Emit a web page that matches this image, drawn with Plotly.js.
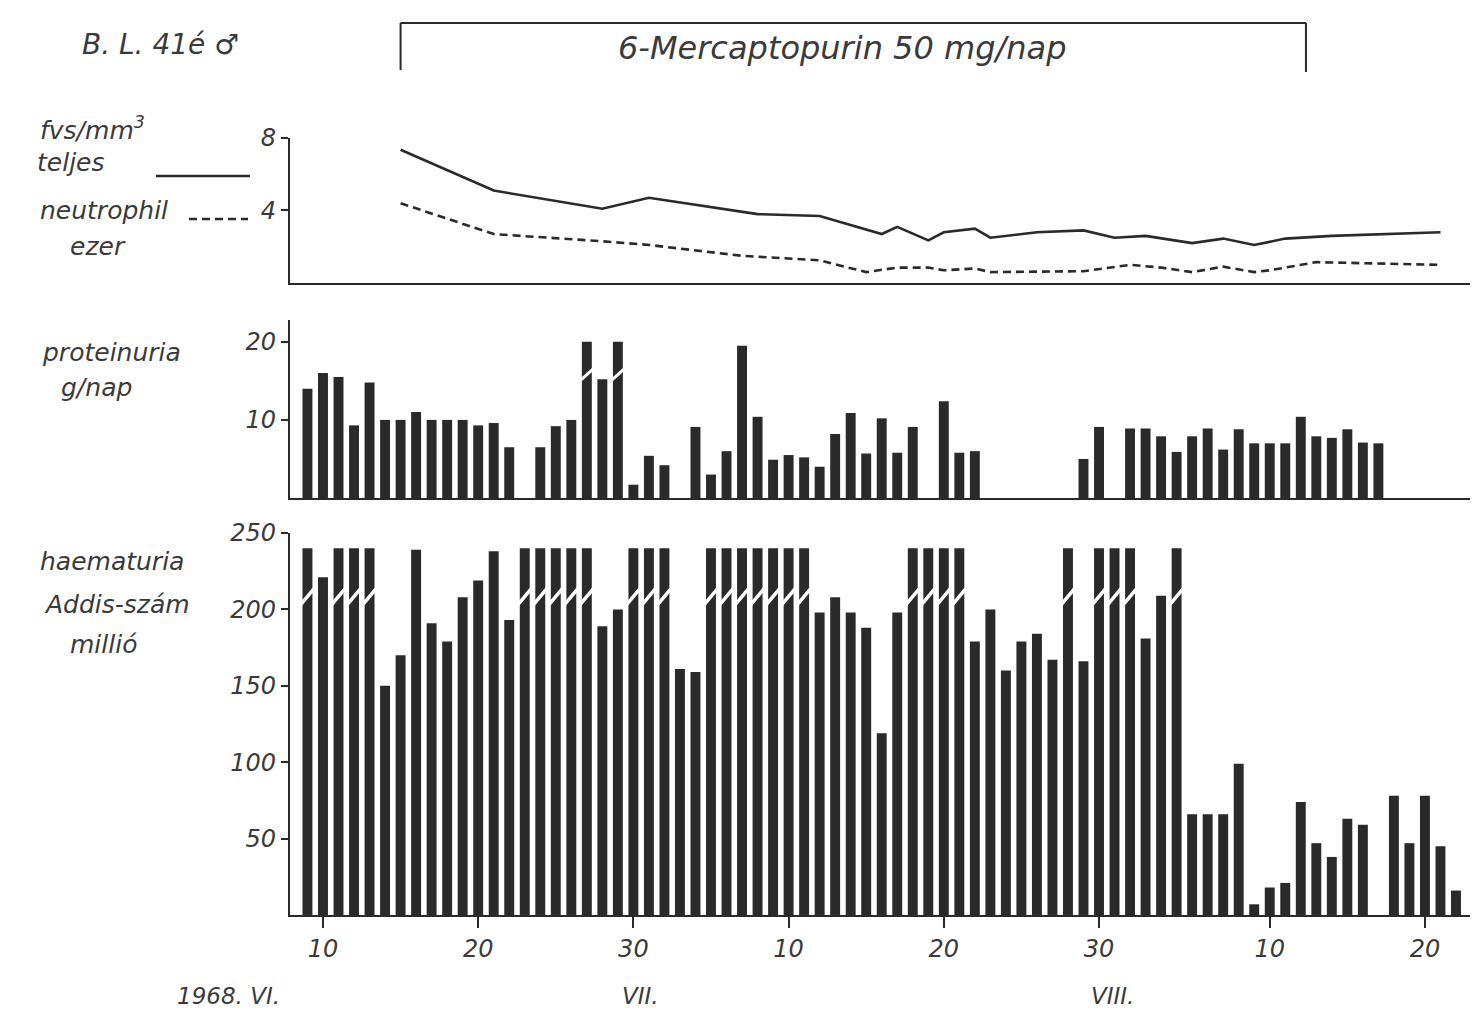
<!DOCTYPE html>
<html>
<head>
<meta charset="utf-8">
<script src="https://cdn.plot.ly/plotly-3.0.1.min.js"></script>
<style>
html,body{margin:0;padding:0;background:#fff;}
#chart{width:1474px;height:1011px;}
</style>
</head>
<body>
<div id="chart"></div>
<script>
// ---------- DATA ----------
// White blood cells (thousand / mm3): total (solid) and neutrophil (dashed)
const wbcTotalDates = ['1968-06-15','1968-06-21','1968-06-28','1968-07-01','1968-07-08','1968-07-12','1968-07-16','1968-07-17','1968-07-19','1968-07-20','1968-07-22','1968-07-23','1968-07-26','1968-07-29','1968-07-31','1968-08-02','1968-08-05','1968-08-07','1968-08-09','1968-08-11','1968-08-14','1968-08-21'];
const wbcTotalValues = [7.35,5.1,4.1,4.7,3.8,3.7,2.7,3.1,2.35,2.8,3.0,2.5,2.8,2.9,2.5,2.6,2.2,2.45,2.1,2.45,2.6,2.8];
const wbcNeutroDates = ['1968-06-15','1968-06-21','1968-06-28','1968-07-01','1968-07-07','1968-07-12','1968-07-15','1968-07-17','1968-07-19','1968-07-20','1968-07-22','1968-07-23','1968-07-29','1968-08-01','1968-08-03','1968-08-05','1968-08-07','1968-08-09','1968-08-10','1968-08-13','1968-08-21'];
const wbcNeutroValues = [4.4,2.7,2.3,2.1,1.5,1.25,0.6,0.85,0.85,0.7,0.8,0.6,0.65,1.0,0.85,0.6,0.9,0.6,0.7,1.15,1.0];

// Proteinuria g/day
const proteinDates = ['1968-06-09','1968-06-10','1968-06-11','1968-06-12','1968-06-13','1968-06-14','1968-06-15','1968-06-16','1968-06-17','1968-06-18','1968-06-19','1968-06-20','1968-06-21','1968-06-22','1968-06-24','1968-06-25','1968-06-26','1968-06-27','1968-06-28','1968-06-29','1968-06-30','1968-07-01','1968-07-02','1968-07-04','1968-07-05','1968-07-06','1968-07-07','1968-07-08','1968-07-09','1968-07-10','1968-07-11','1968-07-12','1968-07-13','1968-07-14','1968-07-15','1968-07-16','1968-07-17','1968-07-18','1968-07-20','1968-07-21','1968-07-22','1968-07-29','1968-07-30','1968-08-01','1968-08-02','1968-08-03','1968-08-04','1968-08-05','1968-08-06','1968-08-07','1968-08-08','1968-08-09','1968-08-10','1968-08-11','1968-08-12','1968-08-13','1968-08-14','1968-08-15','1968-08-16','1968-08-17'];
const proteinValues = [14,16,15.5,9.3,14.8,10,10,11,10,10,10,9.3,9.6,6.5,6.5,9.2,10,20,15.2,20,1.7,5.4,4.2,9.1,3.0,6.0,19.5,10.4,4.9,5.5,5.2,4.0,8.2,10.9,5.7,10.2,5.8,9.1,12.4,5.8,6.0,5.0,9.1,8.9,8.9,7.9,5.9,7.9,8.9,6.2,8.8,7.0,7.0,7.0,10.4,7.9,7.7,8.8,7.1,7.0];
const proteinOffScaleDates = ['1968-06-27','1968-06-29'];

// Haematuria, Addis count (million)
const haemDates = ['1968-06-09','1968-06-10','1968-06-11','1968-06-12','1968-06-13','1968-06-14','1968-06-15','1968-06-16','1968-06-17','1968-06-18','1968-06-19','1968-06-20','1968-06-21','1968-06-22','1968-06-23','1968-06-24','1968-06-25','1968-06-26','1968-06-27','1968-06-28','1968-06-29','1968-06-30','1968-07-01','1968-07-02','1968-07-03','1968-07-04','1968-07-05','1968-07-06','1968-07-07','1968-07-08','1968-07-09','1968-07-10','1968-07-11','1968-07-12','1968-07-13','1968-07-14','1968-07-15','1968-07-16','1968-07-17','1968-07-18','1968-07-19','1968-07-20','1968-07-21','1968-07-22','1968-07-23','1968-07-24','1968-07-25','1968-07-26','1968-07-27','1968-07-28','1968-07-29','1968-07-30','1968-07-31','1968-08-01','1968-08-02','1968-08-03','1968-08-04','1968-08-05','1968-08-06','1968-08-07','1968-08-08','1968-08-09','1968-08-10','1968-08-11','1968-08-12','1968-08-13','1968-08-14','1968-08-15','1968-08-16','1968-08-18','1968-08-19','1968-08-20','1968-08-21','1968-08-22'];
const haemValues = [240,221,240,240,240,150,170,239,191,179,208,219,238,193,240,240,240,240,240,189,200,240,240,240,161,159,240,240,240,240,240,240,240,198,208,198,188,119,198,240,240,240,240,179,200,160,179,184,167,240,166,240,240,240,181,209,240,66,66,66,99,7,18,21,74,47,38,63,59,78,47,78,45,16];
const haemOffScaleDates = ['1968-06-09','1968-06-11','1968-06-12','1968-06-13','1968-06-23','1968-06-24','1968-06-25','1968-06-26','1968-06-27','1968-06-30','1968-07-01','1968-07-02','1968-07-05','1968-07-06','1968-07-07','1968-07-08','1968-07-09','1968-07-10','1968-07-11','1968-07-18','1968-07-19','1968-07-20','1968-07-21','1968-07-28','1968-07-30','1968-07-31','1968-08-01','1968-08-04'];

// Treatment period (6-Mercaptopurin)
const treatmentPeriod = ['1968-06-15','1968-08-12 08:00'];

// Axis ticks
const tickDates = ['1968-06-10','1968-06-20','1968-06-30','1968-07-10','1968-07-20','1968-07-30','1968-08-10','1968-08-20'];
const tickLabels = ['10','20','30','10','20','30','10','20'];
const monthLabels = ['1968. VI.','VII.','VIII.'];

// ---------- DRAWING ----------
const DAY = 86400000;
const INK = '#2a2a2a';
const FONT = '"DejaVu Sans", "Liberation Sans", sans-serif';
const italic = (size) => ({family: FONT, size: size, color: '#3a3a3a', style: 'italic'});

function ms(d){ return Date.parse(d + 'T00:00:00Z'); }
function fmt(t){ return new Date(t).toISOString().slice(0,19).replace('T',' '); }

function breakLines(dates, yLow, yHigh){
  const xs = [], ys = [];
  dates.forEach(d => {
    const t = ms(d);
    xs.push(fmt(t - 0.45*DAY), fmt(t + 0.45*DAY), null);
    ys.push(yLow, yHigh, null);
  });
  return {xs, ys};
}

const pBreak = breakLines(proteinOffScaleDates, 15.0, 16.6);
const hBreak = breakLines(haemOffScaleDates, 203, 214);

const barWidth = 0.64 * DAY;

const traces = [
  {type:'scatter', mode:'lines', x: wbcTotalDates, y: wbcTotalValues, xaxis:'x', yaxis:'y',
   line:{color:INK, width:2.6}, hoverinfo:'skip'},
  {type:'scatter', mode:'lines', x: wbcNeutroDates, y: wbcNeutroValues, xaxis:'x', yaxis:'y',
   line:{color:INK, width:2.6, dash:'8px,5px'}, hoverinfo:'skip'},
  {type:'bar', x: proteinDates, y: proteinValues, xaxis:'x2', yaxis:'y2',
   width: proteinDates.map(()=>barWidth), marker:{color:INK, line:{width:0}}},
  {type:'scatter', mode:'lines', x: pBreak.xs, y: pBreak.ys, xaxis:'x2', yaxis:'y2',
   line:{color:'#ffffff', width:3}, hoverinfo:'skip', connectgaps:false},
  {type:'bar', x: haemDates, y: haemValues, xaxis:'x3', yaxis:'y3',
   width: haemDates.map(()=>barWidth), marker:{color:INK, line:{width:0}}},
  {type:'scatter', mode:'lines', x: hBreak.xs, y: hBreak.ys, xaxis:'x3', yaxis:'y3',
   line:{color:'#ffffff', width:3.5}, hoverinfo:'skip', connectgaps:false}
];

const xRange = ['1968-06-07 21:00:00', '1968-08-22 21:40:00'];
const xCommon = {type:'date', showgrid:false, zeroline:false, showline:true, linecolor:INK, linewidth:2.2,
                 ticks:'', showticklabels:false, fixedrange:true};
const yCommon = {showgrid:false, zeroline:false, showline:true, linecolor:INK, linewidth:2.2,
                 ticks:'outside', ticklen:7, tickwidth:2, tickcolor:INK, tickfont: italic(24), fixedrange:true};

function px2paperX(px){ return (px - 290) / 1180; }
function px2paperY(py){ return (915 - py) / 777; }

const ann = (text, px, py, size, extra) => Object.assign({
  text, xref:'paper', yref:'paper', x: px2paperX(px), y: px2paperY(py),
  showarrow:false, font: italic(size), xanchor:'center', yanchor:'middle'
}, extra || {});

const layout = {
  width:1474, height:1011,
  paper_bgcolor:'#ffffff', plot_bgcolor:'#ffffff',
  margin:{l:290, r:4, t:138, b:96},
  showlegend:false,
  xaxis: Object.assign({}, xCommon, {anchor:'y', range:xRange}),
  xaxis2: Object.assign({}, xCommon, {anchor:'y2', matches:'x'}),
  xaxis3: Object.assign({}, xCommon, {anchor:'y3', matches:'x', ticks:'outside', ticklen:11, tickwidth:2,
           tickcolor:INK, showticklabels:true, tickmode:'array', tickvals:tickDates, ticktext:tickLabels,
           tickfont: italic(24)}),
  yaxis: Object.assign({}, yCommon, {domain:[0.8134,1], range:[0,8], tickmode:'array', tickvals:[4,8], ticktext:['4','8']}),
  yaxis2: Object.assign({}, yCommon, {domain:[0.5367,0.7658], range:[0,22.8], tickmode:'array', tickvals:[10,20], ticktext:['10','20']}),
  yaxis3: Object.assign({}, yCommon, {domain:[0,0.4916], range:[0,250], tickmode:'array', tickvals:[50,100,150,200,250], ticktext:['50','100','150','200','250']}),
  shapes: [
    // treatment bracket
    {type:'line', xref:'x', yref:'paper', x0:treatmentPeriod[0], x1:treatmentPeriod[0], y0:px2paperY(70), y1:px2paperY(23), line:{color:INK, width:2}},
    {type:'line', xref:'x', yref:'paper', x0:treatmentPeriod[0], x1:treatmentPeriod[1], y0:px2paperY(23), y1:px2paperY(23), line:{color:INK, width:2}},
    {type:'line', xref:'x', yref:'paper', x0:treatmentPeriod[1], x1:treatmentPeriod[1], y0:px2paperY(23), y1:px2paperY(72), line:{color:INK, width:2}},
    // legend samples
    {type:'line', xref:'paper', yref:'paper', x0:px2paperX(156), x1:px2paperX(250), y0:px2paperY(176), y1:px2paperY(176), line:{color:INK, width:2.4}},
    {type:'line', xref:'paper', yref:'paper', x0:px2paperX(189), x1:px2paperX(248), y0:px2paperY(219), y1:px2paperY(219), line:{color:INK, width:2.4, dash:'8px,5px'}}
  ],
  annotations: [
    ann('B. L. 41é ♂', 160, 44, 28),
    ann('6-Mercaptopurin 50 mg/nap', 842, 48, 32),
    ann('fvs/mm<sup>3</sup>', 92, 128, 25),
    ann('teljes', 70, 163, 25),
    ann('neutrophil', 104, 210, 25),
    ann('ezer', 98, 246, 25),
    ann('proteinuria', 111, 352, 25),
    ann('g/nap', 96, 387, 25),
    ann('haematuria', 112, 561, 25),
    ann('Addis-szám', 117, 604, 25),
    ann('millió', 104, 644, 25),
    ann(monthLabels[0], 228, 996, 23),
    ann(monthLabels[1], 640, 996, 23),
    ann(monthLabels[2], 1112, 996, 23)
  ]
};

Plotly.newPlot('chart', traces, layout, {staticPlot:true, displayModeBar:false});
</script>
</body>
</html>
